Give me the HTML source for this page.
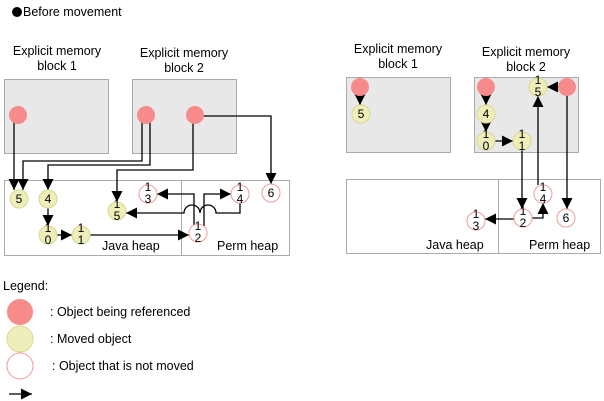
<!DOCTYPE html>
<html><head><meta charset="utf-8"><style>
html,body{margin:0;padding:0;background:#fff;}
svg{display:block;font-family:"Liberation Sans",Arial,sans-serif;}
</style></head><body>
<svg width="604" height="401" viewBox="0 0 604 401" xmlns="http://www.w3.org/2000/svg">
<defs>
<marker id="a" markerWidth="12" markerHeight="12" refX="11" refY="5.5" orient="auto" markerUnits="userSpaceOnUse">
<path d="M0,0 L11,5.5 L0,11 z" fill="#000"/></marker>
</defs>
<g font-size="12.5" fill="#000">
<circle cx="17" cy="12" r="5" fill="#000"/>
<text x="23" y="16">Before movement</text>
<text x="57" y="55" text-anchor="middle">Explicit memory</text>
<text x="57" y="70" text-anchor="middle">block 1</text>
<text x="184" y="57" text-anchor="middle">Explicit memory</text>
<text x="184" y="72" text-anchor="middle">block 2</text>
<text x="398" y="53" text-anchor="middle">Explicit memory</text>
<text x="398" y="68" text-anchor="middle">block 1</text>
<text x="526" y="56" text-anchor="middle">Explicit memory</text>
<text x="526" y="71" text-anchor="middle">block 2</text>
</g>
<g fill="#e8e8e8" stroke="#aaa">
<rect x="4.5" y="79.5" width="104" height="74"/>
<rect x="132.5" y="79.5" width="104" height="74"/>
<rect x="346.5" y="77.5" width="104" height="75"/>
<rect x="474.5" y="77.5" width="104" height="75"/>
</g>
<g fill="none" stroke="#aaa">
<rect x="4.5" y="180.5" width="177" height="75"/>
<rect x="181.5" y="180.5" width="108" height="75"/>
<rect x="346.5" y="179.5" width="152" height="74"/>
<rect x="498.5" y="179.5" width="102" height="74"/>
</g>
<g font-size="12.5" fill="#000">
<text x="102" y="250">Java heap</text>
<text x="217" y="250">Perm heap</text>
<text x="426" y="249">Java heap</text>
<text x="529" y="249">Perm heap</text>
</g>
<g fill="none" stroke="#000" stroke-width="1.3">
<path d="M14,115 V190" marker-end="url(#a)"/>
<path d="M142,115 V161 H23 V190" marker-end="url(#a)"/>
<path d="M150,115 V165 H48 V190" marker-end="url(#a)"/>
<path d="M193,115 V170 H117 V202" marker-end="url(#a)"/>
<path d="M195,116 H271 V184" marker-end="url(#a)"/>
<path d="M48,208 V226" marker-end="url(#a)"/>
<path d="M57,235 H72" marker-end="url(#a)"/>
<path d="M90,235 H189" marker-end="url(#a)"/>
<path d="M194,226 V194 H157" marker-end="url(#a)"/>
<path d="M204,226 V194 H231" marker-end="url(#a)"/>
<path d="M240,203 V213 H216 A8,8 0 0 0 200,213 A8,8 0 0 0 184,213 H126" marker-end="url(#a)"/>
</g>
<g fill="none" stroke="#000" stroke-width="1.3">
<path d="M360,92 V105" marker-end="url(#a)"/>
<path d="M486,92 V105" marker-end="url(#a)"/>
<path d="M486,123 V132" marker-end="url(#a)"/>
<path d="M495,141 H513" marker-end="url(#a)"/>
<path d="M522,150 V209" marker-end="url(#a)"/>
<path d="M538,185 V96" marker-end="url(#a)"/>
<path d="M532,218 H543 V203" marker-end="url(#a)"/>
<path d="M514,219 H485" marker-end="url(#a)"/>
<path d="M559,87 H547" marker-end="url(#a)"/>
<path d="M567,87 V209" marker-end="url(#a)"/>
</g>
<g fill="#f78a8a">
<circle cx="18" cy="115" r="9"/><circle cx="146" cy="115" r="9"/><circle cx="195" cy="115" r="9"/>
<circle cx="360" cy="87" r="9"/><circle cx="486" cy="87" r="9"/><circle cx="567" cy="87" r="9"/>
<circle cx="20" cy="312" r="13"/>
</g>
<g fill="#eeeebb" stroke="#d8d890">
<circle cx="19" cy="199" r="9"/><circle cx="48" cy="199" r="9"/><circle cx="48" cy="235" r="9"/>
<circle cx="81" cy="235" r="9"/><circle cx="117" cy="211" r="9"/>
<circle cx="361" cy="114" r="9"/><circle cx="486" cy="114" r="9"/><circle cx="486" cy="141" r="9"/>
<circle cx="522" cy="141" r="9"/><circle cx="538" cy="87" r="9"/>
<circle cx="20" cy="339" r="13"/>
</g>
<g fill="#fff" stroke="#f29a9a">
<circle cx="148" cy="194" r="9"/><circle cx="240" cy="194" r="9"/><circle cx="198" cy="233" r="9"/>
<circle cx="271" cy="193" r="9"/>
<circle cx="476" cy="221" r="9"/><circle cx="523" cy="218" r="9"/><circle cx="543" cy="194" r="9"/>
<circle cx="566" cy="218" r="9"/>
<circle cx="20" cy="366" r="13"/>
</g>
<g font-size="12" fill="#000" text-anchor="middle">
<text x="19" y="203">5</text><text x="48" y="203">4</text>
<text x="48" y="232">1</text><text x="48" y="244">0</text>
<text x="81" y="232">1</text><text x="81" y="244">1</text>
<text x="117" y="208">1</text><text x="117" y="220">5</text>
<text x="148" y="191">1</text><text x="148" y="203">3</text>
<text x="240" y="191">1</text><text x="240" y="203">4</text>
<text x="198" y="230">1</text><text x="198" y="242">2</text>
<text x="271" y="197">6</text>
<text x="361" y="118">5</text><text x="486" y="118">4</text>
<text x="486" y="138">1</text><text x="486" y="150">0</text>
<text x="522" y="138">1</text><text x="522" y="150">1</text>
<text x="538" y="84">1</text><text x="538" y="96">5</text>
<text x="476" y="218">1</text><text x="476" y="230">3</text>
<text x="523" y="215">1</text><text x="523" y="227">2</text>
<text x="543" y="191">1</text><text x="543" y="203">4</text>
<text x="566" y="222">6</text>
</g>
<g font-size="12.5" fill="#000">
<text x="3" y="290">Legend:</text>
<text x="50" y="316">: Object being referenced</text>
<text x="50" y="343">: Moved object</text>
<text x="52" y="370">: Object that is not moved</text>
</g>
<path d="M9,394 H32" stroke="#000" stroke-width="1.3" fill="none" marker-end="url(#a)"/>
</svg>
</body></html>
